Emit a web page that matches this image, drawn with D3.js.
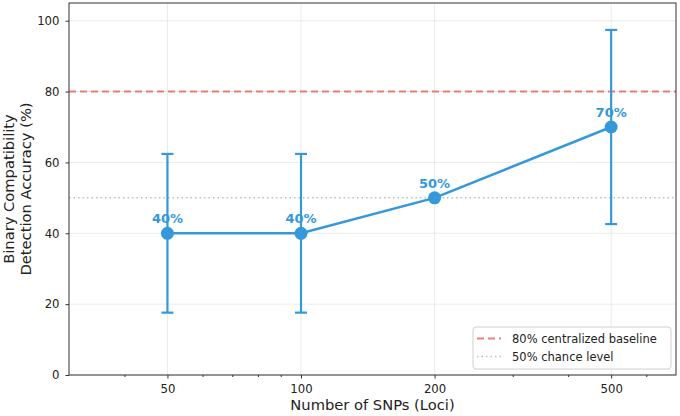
<!DOCTYPE html>
<html>
<head>
<meta charset="utf-8">
<script src="https://cdn.jsdelivr.net/npm/d3@7"></script>
<style>
  body { margin: 0; background: #fff; }
  text { font-family: "DejaVu Sans", sans-serif; }
</style>
</head>
<body>
<div id="app"></div>
<script>
// data
const snps = [50, 100, 200, 500];
const accuracy = [40, 40, 50, 70];
const errors = [22.4, 22.4, 0, 27.4];
const pointLabels = ["40%", "40%", "50%", "70%"];
const xTicks = [50, 100, 200, 500];
const xMinor = [40, 60, 70, 80, 90, 300, 400, 600];
const yTicks = [0, 20, 40, 60, 80, 100];
const baseline = 80;
const chance = 50;

const W = 680, H = 416;
const margin = {top: 3, right: 4, bottom: 41, left: 69};
const width = W - margin.left - margin.right,
      height = H - margin.top - margin.bottom;

const blue = "#3498db";

const svg = d3.select("#app").append("svg")
    .attr("width", W).attr("height", H);
const g = svg.append("g")
    .attr("transform", `translate(${margin.left},${margin.top})`);

const x = d3.scaleLog().domain([30, 700]).range([0, width]);
const y = d3.scaleLinear().domain([0, 105]).range([height, 0]);

// grid
g.append("g").selectAll("line").data(yTicks).join("line")
    .attr("x1", 0).attr("x2", width)
    .attr("y1", d => y(d)).attr("y2", d => y(d))
    .attr("stroke", "#e6e6e6").attr("stroke-width", 0.8);
g.append("g").selectAll("line").data(xTicks).join("line")
    .attr("y1", 0).attr("y2", height)
    .attr("x1", d => x(d)).attr("x2", d => x(d))
    .attr("stroke", "#e6e6e6").attr("stroke-width", 0.8);

// reference lines
g.append("line")
    .attr("x1", 0).attr("x2", width)
    .attr("y1", y(baseline)).attr("y2", y(baseline))
    .attr("stroke", "#e74c3c").attr("stroke-opacity", 0.7)
    .attr("stroke-width", 2).attr("stroke-dasharray", "7,4");
g.append("line")
    .attr("x1", 0).attr("x2", width)
    .attr("y1", y(chance)).attr("y2", y(chance))
    .attr("stroke", "#95a5a6").attr("stroke-opacity", 0.7)
    .attr("stroke-width", 1.5).attr("stroke-dasharray", "1.5,3");

const pts = snps.map((s, i) => ({s, v: accuracy[i], e: errors[i], lab: pointLabels[i]}));

// error bars
const eb = g.append("g").selectAll("g").data(pts.filter(d => d.e > 0)).join("g")
    .attr("stroke", blue).attr("stroke-width", 2.2);
eb.append("line")
    .attr("x1", d => x(d.s)).attr("x2", d => x(d.s))
    .attr("y1", d => y(d.v - d.e)).attr("y2", d => y(d.v + d.e));
eb.append("line")
    .attr("x1", d => x(d.s) - 6).attr("x2", d => x(d.s) + 6)
    .attr("y1", d => y(d.v + d.e)).attr("y2", d => y(d.v + d.e));
eb.append("line")
    .attr("x1", d => x(d.s) - 6).attr("x2", d => x(d.s) + 6)
    .attr("y1", d => y(d.v - d.e)).attr("y2", d => y(d.v - d.e));

// line + markers
g.append("path").datum(pts)
    .attr("fill", "none").attr("stroke", blue).attr("stroke-width", 2.5)
    .attr("d", d3.line().x(d => x(d.s)).y(d => y(d.v)));
g.append("g").selectAll("circle").data(pts).join("circle")
    .attr("cx", d => x(d.s)).attr("cy", d => y(d.v)).attr("r", 6.5)
    .attr("fill", blue);

// value labels
g.append("g").selectAll("text").data(pts).join("text")
    .attr("x", d => x(d.s)).attr("y", d => y(d.v) - 10)
    .attr("text-anchor", "middle")
    .attr("font-size", 13).attr("font-weight", "bold")
    .attr("fill", blue)
    .text(d => d.lab);

// axes
const xAxis = g.append("g").attr("transform", `translate(0,${height})`)
    .call(d3.axisBottom(x).tickValues(xTicks).tickFormat(d3.format("d")).tickSize(3.5).tickPadding(6));
const xMinorAxis = g.append("g").attr("transform", `translate(0,${height})`)
    .call(d3.axisBottom(x).tickValues(xMinor).tickFormat("").tickSize(2));
const yAxis = g.append("g")
    .call(d3.axisLeft(y).tickValues(yTicks).tickSize(3.5).tickPadding(6));
[xAxis, xMinorAxis, yAxis].forEach(a => {
    a.selectAll("text").attr("font-size", 11.7).attr("fill", "#222")
        .attr("font-family", "DejaVu Sans, sans-serif");
    a.selectAll("line").attr("stroke", "#333");
    a.select(".domain").remove();
});

// frame
g.append("rect").attr("width", width).attr("height", height)
    .attr("fill", "none").attr("stroke", "#333").attr("stroke-width", 1);

// axis titles
svg.append("text")
    .attr("x", margin.left + width / 2).attr("y", H - 6)
    .attr("text-anchor", "middle").attr("font-size", 14.7).attr("fill", "#222")
    .text("Number of SNPs (Loci)");
const yl = svg.append("text")
    .attr("transform", `translate(14,${margin.top + height / 2}) rotate(-90)`)
    .attr("text-anchor", "middle").attr("font-size", 14.7).attr("fill", "#222");
yl.append("tspan").attr("x", 0).attr("dy", 0).text("Binary Compatibility");
yl.append("tspan").attr("x", 0).attr("dy", 16.5).text("Detection Accuracy (%)");

// legend
const lg = g.append("g").attr("transform", `translate(${width - 203},${height - 48})`);
lg.append("rect").attr("width", 198).attr("height", 42).attr("rx", 3)
    .attr("fill", "#fff").attr("fill-opacity", 0.9)
    .attr("stroke", "#d0d0d0");
lg.append("line").attr("x1", 4).attr("x2", 28).attr("y1", 11.5).attr("y2", 11.5)
    .attr("stroke", "#e74c3c").attr("stroke-opacity", 0.7)
    .attr("stroke-width", 2).attr("stroke-dasharray", "7,4");
lg.append("line").attr("x1", 4).attr("x2", 28).attr("y1", 29.5).attr("y2", 29.5)
    .attr("stroke", "#95a5a6").attr("stroke-opacity", 0.7)
    .attr("stroke-width", 1.5).attr("stroke-dasharray", "1.5,3");
lg.append("text").attr("x", 39).attr("y", 15.5).attr("font-size", 11.5).attr("fill", "#222")
    .text("80% centralized baseline");
lg.append("text").attr("x", 39).attr("y", 33.5).attr("font-size", 11.5).attr("fill", "#222")
    .text("50% chance level");
</script>
</body>
</html>
